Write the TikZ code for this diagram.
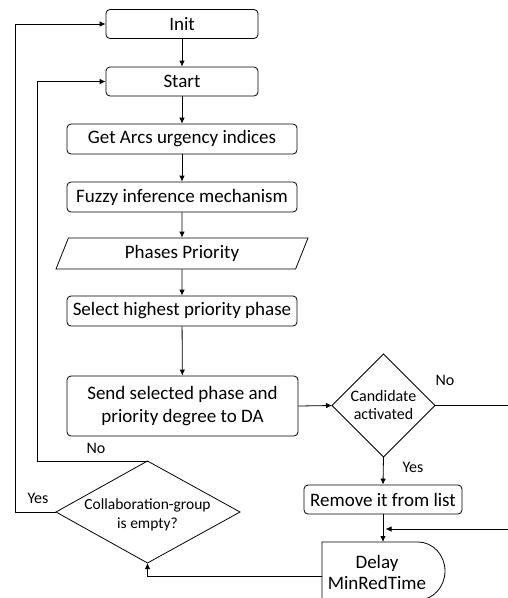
\documentclass[tikz,border=0pt]{standalone}
\usepackage{fontspec}
\setmainfont{Carlito}
\usetikzlibrary{shapes.geometric,arrows.meta}
\begin{document}
\begin{tikzpicture}[x=1pt,y=-1pt,
  every node/.style={font=\fontsize{19}{23}\selectfont},
  lbl/.style={font=\fontsize{16}{19}\selectfont},
  box/.style={draw, rounded corners=4pt, line width=0.8pt, align=center, inner sep=0pt},
  dtext/.style={align=center, inner sep=0pt},
  conn/.style={line width=0.8pt},
  arr/.style={conn, -{Latex[length=6pt,width=5.5pt]}}
]
\useasboundingbox (0,0) rectangle (508,598);
\node[box, minimum width=152pt, minimum height=29pt] (init) at (182,24) {Init};
\node[box, minimum width=152pt, minimum height=29pt] (start) at (182,81.5) {Start};
\node[box, minimum width=230pt, minimum height=30pt] (arcs) at (182,139) {Get Arcs urgency indices};
\node[box, minimum width=230pt, minimum height=30pt] (fuzzy) at (182,197) {Fuzzy inference mechanism};
\node[draw, trapezium, trapezium left angle=69, trapezium right angle=111, trapezium stretches=true,
      minimum width=252pt, minimum height=31pt, line width=0.8pt, inner sep=0pt] (pp) at (182,253.5) {Phases Priority};
\node[box, minimum width=230pt, minimum height=30pt] (select) at (182,311) {Select highest priority phase};
\node[box, minimum width=231pt, minimum height=60pt] (send) at (182.5,406) {Send selected phase and\\priority degree to DA};

% Candidate diamond
\coordinate (candN) at (383.5,354);
\coordinate (candW) at (332,405.5);
\coordinate (candE) at (435,405.5);
\coordinate (candS) at (383.5,457);
\draw[conn] (candN) -- (candE) -- (candS) -- (candW) -- cycle;
\node[dtext, font=\fontsize{16}{18.5}\selectfont] (cand) at (383.5,405) {Candidate\\activated};

% Collaboration diamond
\coordinate (colN) at (147.5,461);
\coordinate (colW) at (56,512);
\coordinate (colE) at (240,512);
\coordinate (colS) at (147.5,563);
\draw[conn] (colN) -- (colE) -- (colS) -- (colW) -- cycle;
\node[dtext, font=\fontsize{15.5}{19.5}\selectfont] (collab) at (147.5,515) {Collaboration-group\\is empty?};

\node[box, minimum width=158pt, minimum height=29pt] (remove) at (383,499.5) {Remove it from list};
\node[align=center, inner sep=0pt, font=\fontsize{19}{21}\selectfont] (delay) at (377,572.5) {Delay\\MinRedTime};
\draw[conn] (322,542) coordinate (dtop) -- (418,542) arc[start angle=-90,end angle=90,x radius=27,y radius=29] -- (322,600) -- cycle;
\coordinate (dleft) at (322,576);
\coordinate (noEnd) at (508,405.5);
\coordinate (inRight) at (508,529);
\coordinate (inTip) at (385.5,529);
\coordinate (loopA) at (37.5,461);
\coordinate (loopB) at (15.5,512);

\draw[arr] (init) -- (start);
\draw[arr] (start) -- (arcs);
\draw[arr] (arcs) -- (fuzzy);
\draw[arr] (fuzzy) -- (pp);
\draw[arr] (pp) -- (select);
\draw[arr] (select) -- (send);
\draw[arr] (send.east) -- (candW);
\draw[conn] (candE) -- (noEnd);
\draw[arr] (candS) -- (remove.north);
\draw[arr] (remove.south) -- (remove.south |- dtop);
\draw[arr] (inRight) -- (inTip);
\draw[arr] (dleft) -- (colS |- dleft) -- (colS);
\draw[arr] (colN) -- (loopA) -- (loopA |- start.west) -- (start.west);
\draw[arr] (colW) -- (loopB) -- (loopB |- init.west) -- (init.west);

\node[lbl] (no1) at (96,448) {No};
\node[lbl] (yes1) at (38,498) {Yes};
\node[lbl] (no2) at (445,380) {No};
\node[lbl] (yes2) at (413,467) {Yes};
\end{tikzpicture}
\end{document}
